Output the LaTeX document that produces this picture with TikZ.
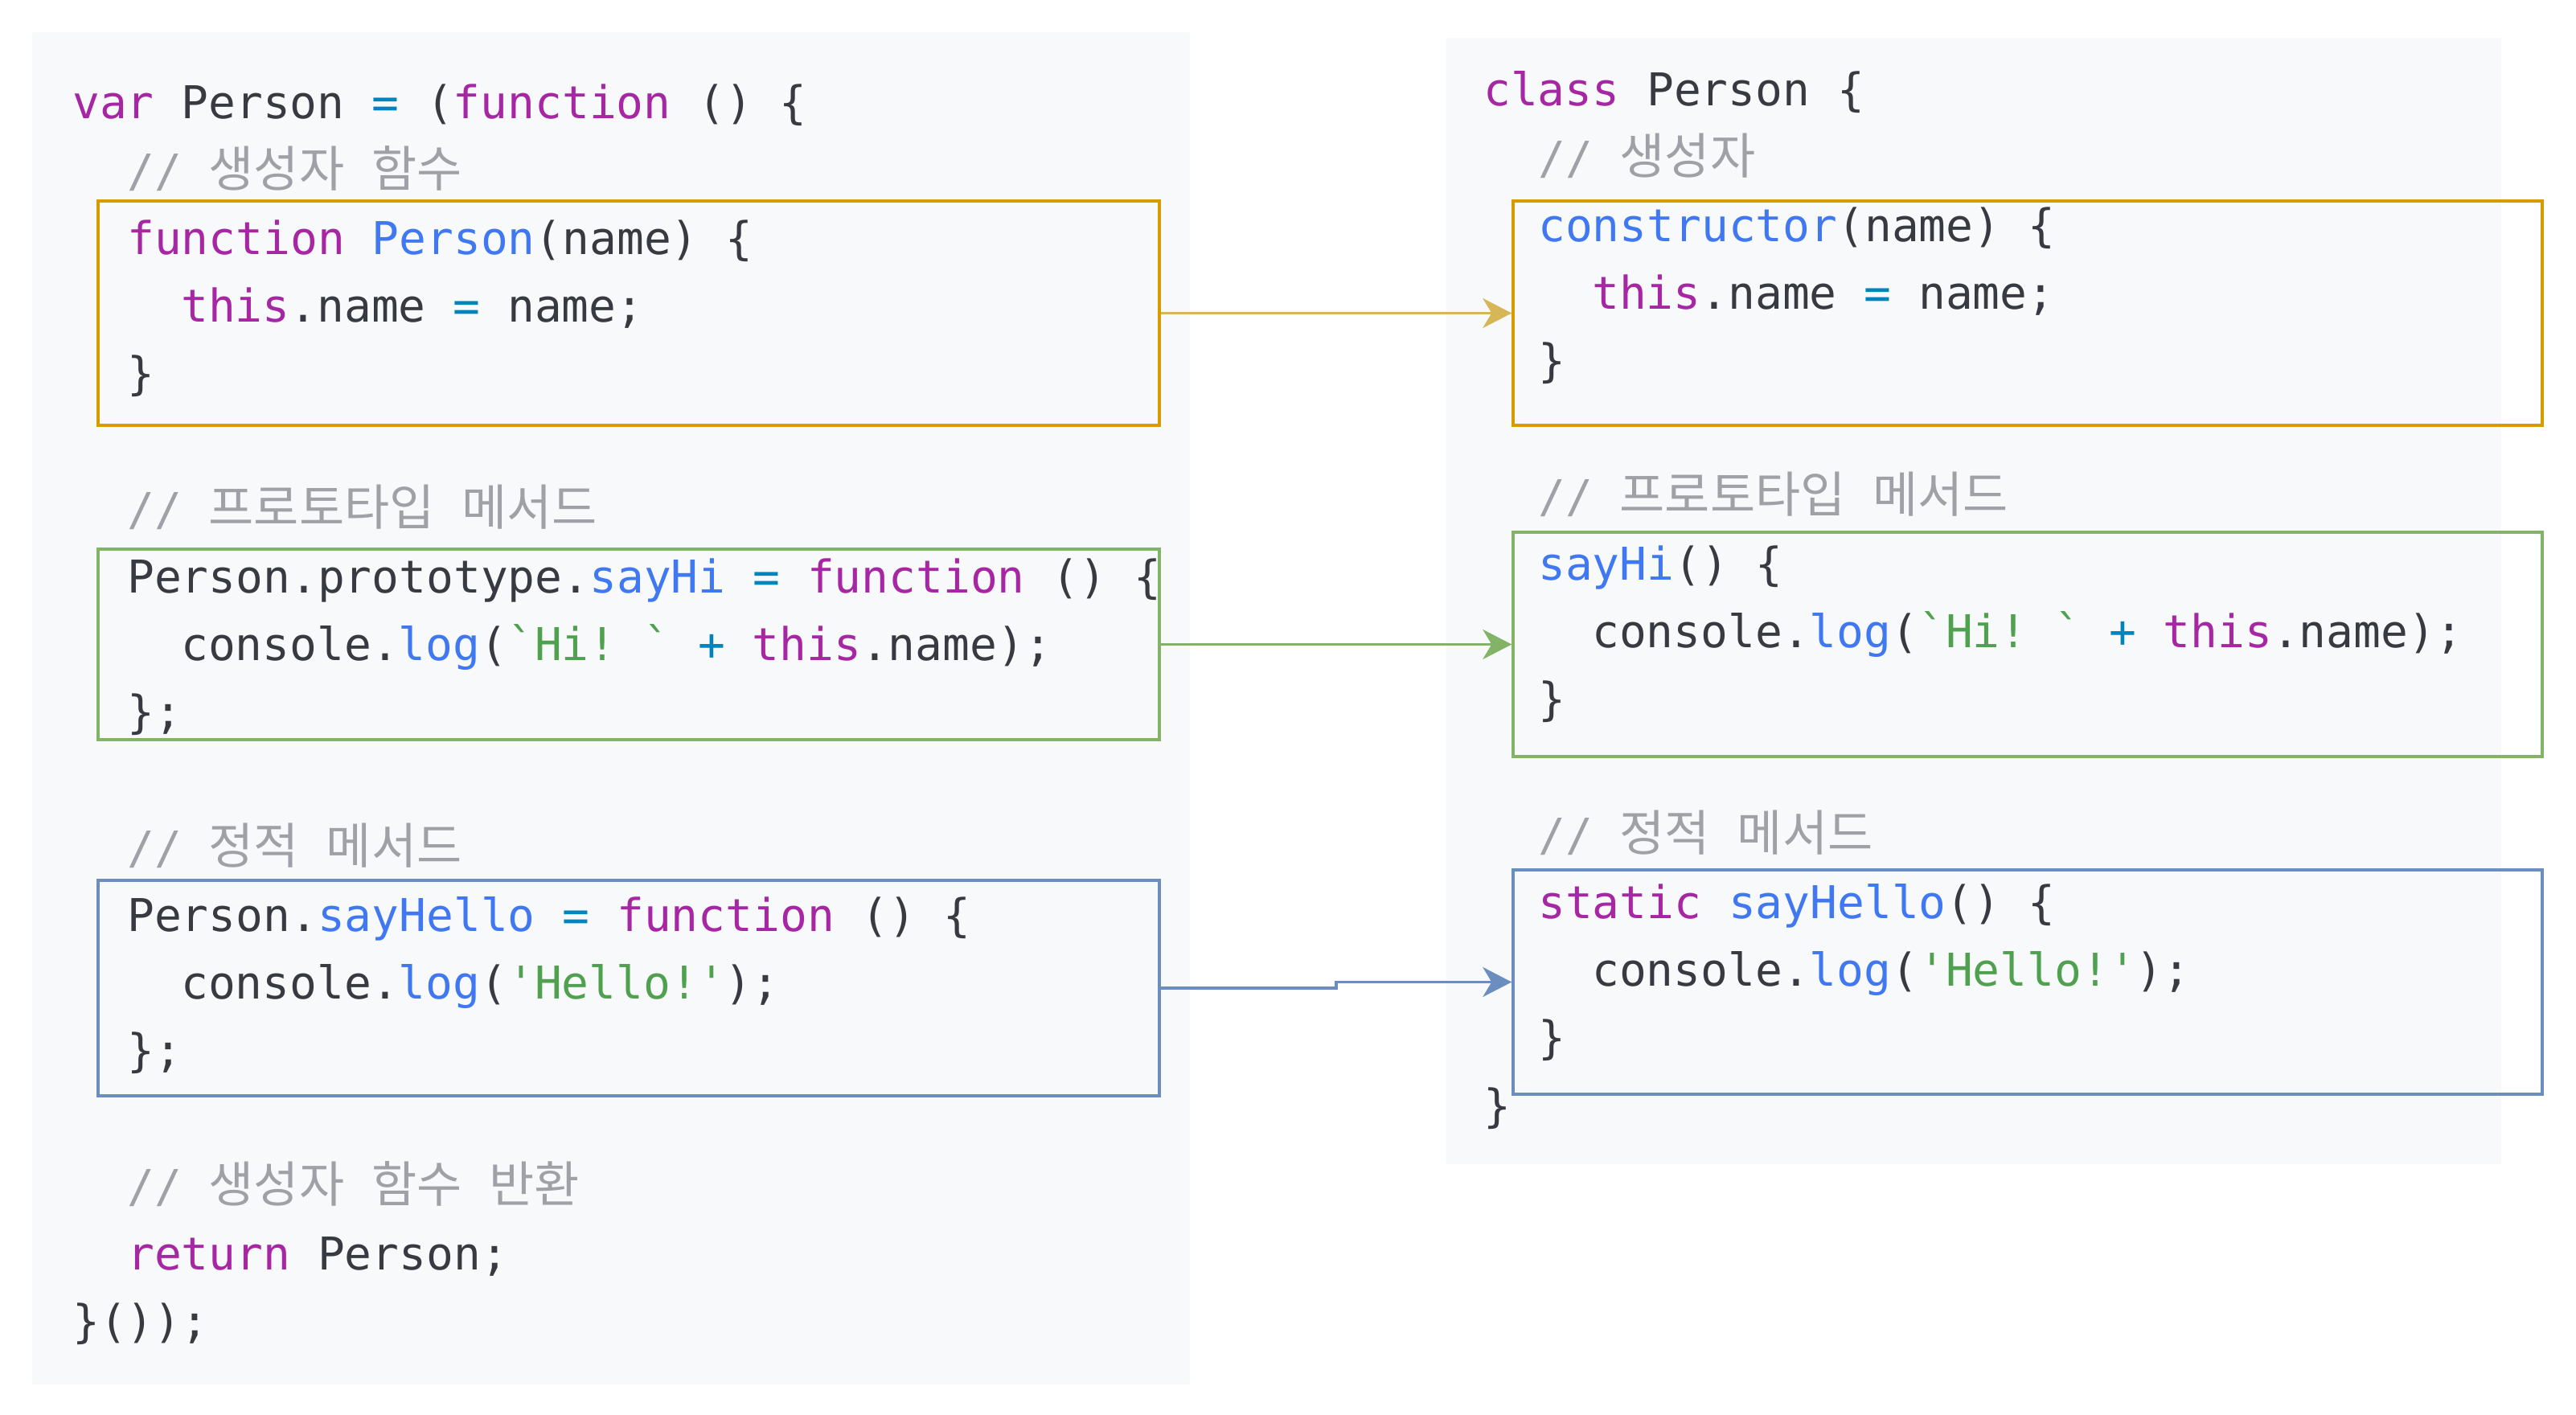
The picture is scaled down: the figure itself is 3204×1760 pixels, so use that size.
\documentclass[tikz,border=0pt]{standalone}
\usepackage{fontspec}
\setmonofont{DejaVu Sans Mono}
\newfontfamily\krf[Scale=1.087]{Noto Sans CJK KR}
\usetikzlibrary{arrows.meta}
\definecolor{kwc}{HTML}{A626A4}
\definecolor{fnc}{HTML}{4078F2}
\definecolor{stc}{HTML}{50A14F}
\definecolor{opc}{HTML}{0184BC}
\definecolor{cmc}{HTML}{A0A1A7}
\definecolor{txc}{HTML}{383A42}
\definecolor{bgc}{HTML}{F8F9FB}
\definecolor{orgc}{HTML}{D79B00}
\definecolor{orga}{HTML}{D6B656}
\definecolor{grnc}{HTML}{82B366}
\definecolor{bluc}{HTML}{6C8EBF}
\newcommand\cKw[1]{\textcolor{kwc}{#1}}
\newcommand\cFn[1]{\textcolor{fnc}{#1}}
\newcommand\cSt[1]{\textcolor{stc}{#1}}
\newcommand\cOp[1]{\textcolor{opc}{#1}}
\newcommand\cCm[1]{\textcolor{cmc}{#1}}
\newcommand\kr[1]{{\krf #1}}
\frenchspacing
\begin{document}
\begin{tikzpicture}[x=1pt,y=-1pt,
  code/.style={anchor=base west, inner sep=0pt, text=txc,
    font=\ttfamily\fontsize{56.2}{60}\selectfont},
  box/.style={draw, rectangle, line width=3.5pt, inner sep=0pt},
  conn/.style={line width=3.5pt, -{Stealth[length=36pt,width=37pt,inset=11pt]}}]
\useasboundingbox (0,0) rectangle (3204,1760);
% panels
\fill[bgc] (40,40) rectangle (1480,1722);
\fill[bgc] (1799,47) rectangle (3111,1448);
% boxes
\node[box, draw=orgc, minimum width=1320pt, minimum height=279pt] (lo) at (782,389.5) {};
\node[box, draw=grnc, minimum width=1320pt, minimum height=237pt] (lg) at (782,801.5) {};
\node[box, draw=bluc, minimum width=1320pt, minimum height=268pt] (lb) at (782,1229) {};
\node[box, draw=orgc, minimum width=1280pt, minimum height=279pt] (ro) at (2522,389.5) {};
\node[box, draw=grnc, minimum width=1280pt, minimum height=279pt] (rg) at (2522,801.5) {};
\node[box, draw=bluc, minimum width=1280pt, minimum height=279pt] (rb) at (2522,1221.5) {};
% left code
\def\lb#1{148+84.2*#1}
\node[code] (l0)  at (90,{\lb{0}})  {\cKw{var} Person \cOp{=} (\cKw{function} () \{};
\node[code] (l1)  at (158,{\lb{1}}) {\cCm{// \kr{생성자} \kr{함수}}};
\node[code] (l2)  at (158,{\lb{2}}) {\cKw{function} \cFn{Person}(name) \{};
\node[code] (l3)  at (225,{\lb{3}}) {\cKw{this}.name \cOp{=} name;};
\node[code] (l4)  at (158,{\lb{4}}) {\}};
\node[code] (l6)  at (158,{\lb{6}}) {\cCm{// \kr{프로토타입} \kr{메서드}}};
\node[code] (l7)  at (158,{\lb{7}}) {Person.prototype.\cFn{sayHi} \cOp{=} \cKw{function} () \{};
\node[code] (l8)  at (225,{\lb{8}}) {console.\cFn{log}(\cSt{`Hi! `} \cOp{+} \cKw{this}.name);};
\node[code] (l9)  at (158,{\lb{9}}) {\};};
\node[code] (l11) at (158,{\lb{11}}) {\cCm{// \kr{정적} \kr{메서드}}};
\node[code] (l12) at (158,{\lb{12}}) {Person.\cFn{sayHello} \cOp{=} \cKw{function} () \{};
\node[code] (l13) at (225,{\lb{13}}) {console.\cFn{log}(\cSt{'Hello!'});};
\node[code] (l14) at (158,{\lb{14}}) {\};};
\node[code] (l16) at (158,{\lb{16}}) {\cCm{// \kr{생성자} \kr{함수} \kr{반환}}};
\node[code] (l17) at (158,{\lb{17}}) {\cKw{return} Person;};
\node[code] (l18) at (90,{\lb{18}})  {\}());};
% right code
\def\rb#1{132+84.2*#1}
\node[code] (r0)  at (1845,{\rb{0}})  {\cKw{class} Person \{};
\node[code] (r1)  at (1913,{\rb{1}})  {\cCm{// \kr{생성자}}};
\node[code] (r2)  at (1913,{\rb{2}})  {\cFn{constructor}(name) \{};
\node[code] (r3)  at (1980,{\rb{3}})  {\cKw{this}.name \cOp{=} name;};
\node[code] (r4)  at (1913,{\rb{4}})  {\}};
\node[code] (r6)  at (1913,{\rb{6}})  {\cCm{// \kr{프로토타입} \kr{메서드}}};
\node[code] (r7)  at (1913,{\rb{7}})  {\cFn{sayHi}() \{};
\node[code] (r8)  at (1980,{\rb{8}})  {console.\cFn{log}(\cSt{`Hi! `} \cOp{+} \cKw{this}.name);};
\node[code] (r9)  at (1913,{\rb{9}})  {\}};
\node[code] (r11) at (1913,{\rb{11}}) {\cCm{// \kr{정적} \kr{메서드}}};
\node[code] (r12) at (1913,{\rb{12}}) {\cKw{static} \cFn{sayHello}() \{};
\node[code] (r13) at (1980,{\rb{13}}) {console.\cFn{log}(\cSt{'Hello!'});};
\node[code] (r14) at (1913,{\rb{14}}) {\}};
\node[code] (r15) at (1845,{\rb{15}}) {\}};
% connectors
\coordinate (jx) at (1662,0);
\draw[conn, orga] (lo.east) -- (ro.west);
\draw[conn, grnc] (lg.east) -- (rg.west);
\draw[conn, bluc] (lb.east) -- (lb.east -| jx) |- (rb.west);
\end{tikzpicture}
\end{document}
